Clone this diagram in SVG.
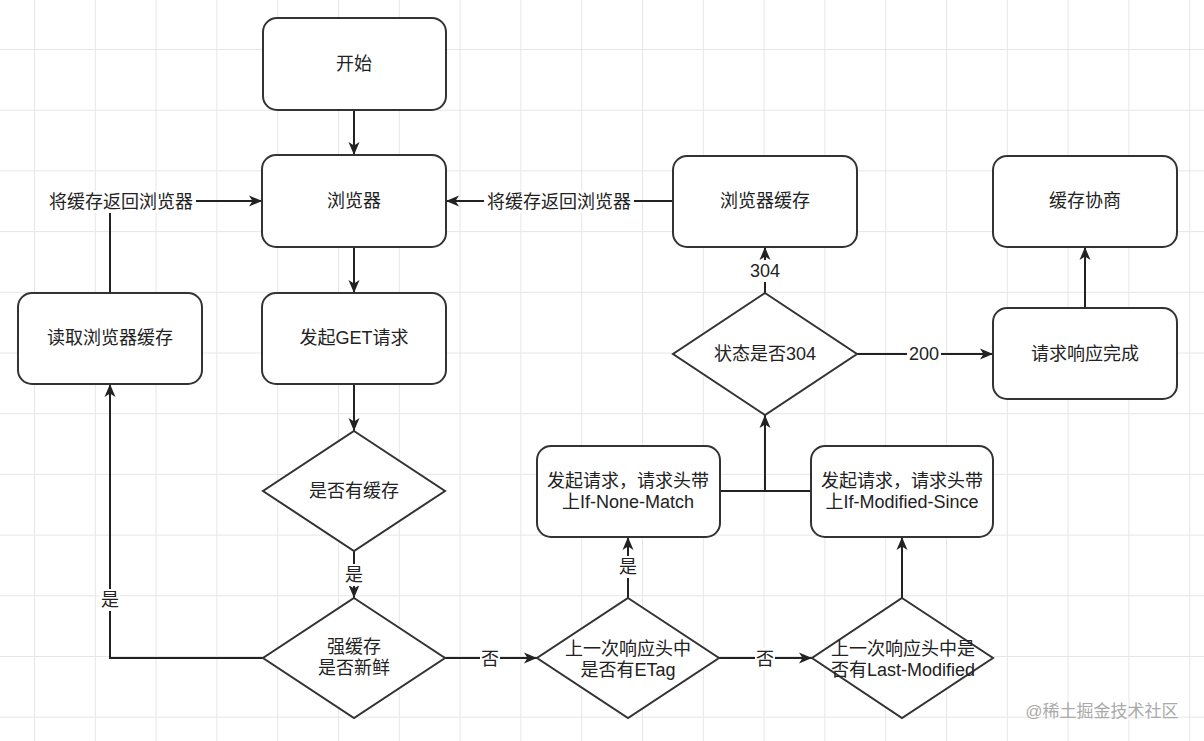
<svg xmlns="http://www.w3.org/2000/svg" width="1204" height="741" viewBox="0 0 1204 741">
  <defs>
    <pattern id="grid" x="34" y="49" width="60.8" height="60.7" patternUnits="userSpaceOnUse">
      <path d="M0,0 V60.7 M0,0 H60.8" fill="none" stroke="#e6e6e6" stroke-width="2"/>
    </pattern>
    <marker id="arr" markerUnits="userSpaceOnUse" markerWidth="14" markerHeight="14" viewBox="0 0 14 14" refX="13" refY="7" orient="auto">
      <path d="M0,1.5 L13,7 L0,12.5 L3.5,7 Z" fill="#222"/>
    </marker>
    <style>
      .node { fill: #fff; stroke: #333; stroke-width: 2; }
      .txt { font-family: "Liberation Sans", "Noto Sans CJK SC", sans-serif; font-size: 18px; fill: #222; text-anchor: middle; dominant-baseline: central; }
      .edge { fill: none; stroke: #222; stroke-width: 2; }
      .lblbg { fill: #fff; }
      .wm { font-family: "Liberation Sans", "Noto Sans CJK SC", sans-serif; font-size: 17px; fill: #aaa; text-anchor: middle; dominant-baseline: central; }
    </style>
  </defs>

  <rect x="0" y="0" width="1204" height="741" fill="#fff"/>
  <rect x="0" y="0" width="1204" height="741" fill="url(#grid)"/>

  <g id="connectors">
    <path class="edge" d="M354,110 V155" marker-end="url(#arr)"/>
    <path class="edge" d="M354,247 V293" marker-end="url(#arr)"/>
    <path class="edge" d="M354,384 V431" marker-end="url(#arr)"/>
    <path class="edge" d="M354,551 V598" marker-end="url(#arr)"/>
    <path class="edge" d="M263,658 H110 V384" marker-end="url(#arr)"/>
    <path class="edge" d="M110,293 V201 H262" marker-end="url(#arr)"/>
    <path class="edge" d="M673,201 H446" marker-end="url(#arr)"/>
    <path class="edge" d="M445,658 H537" marker-end="url(#arr)"/>
    <path class="edge" d="M719,658 H812" marker-end="url(#arr)"/>
    <path class="edge" d="M628,598 V537" marker-end="url(#arr)"/>
    <path class="edge" d="M902,598 V537" marker-end="url(#arr)"/>
    <path class="edge" d="M720,491 H765 V415" marker-end="url(#arr)"/>
    <path class="edge" d="M811,491 H765"/>
    <path class="edge" d="M765,293 V247" marker-end="url(#arr)"/>
    <path class="edge" d="M857,354 H993" marker-end="url(#arr)"/>
    <path class="edge" d="M1085,308 V247" marker-end="url(#arr)"/>

    <g id="edge-labels">
      <rect class="lblbg" x="46" y="191" width="150" height="22"/>
      <text class="txt" x="121" y="202">将缓存返回浏览器</text>
      <rect class="lblbg" x="484" y="191" width="150" height="22"/>
      <text class="txt" x="559" y="202">将缓存返回浏览器</text>
      <rect class="lblbg" x="100" y="589" width="20" height="22"/>
      <text class="txt" x="110" y="600">是</text>
      <rect class="lblbg" x="344" y="564" width="20" height="22"/>
      <text class="txt" x="354" y="575">是</text>
      <rect class="lblbg" x="480" y="648" width="20" height="22"/>
      <text class="txt" x="490" y="659">否</text>
      <rect class="lblbg" x="755" y="648" width="20" height="22"/>
      <text class="txt" x="765" y="659">否</text>
      <rect class="lblbg" x="618" y="556" width="20" height="22"/>
      <text class="txt" x="628" y="567">是</text>
      <rect class="lblbg" x="748" y="260" width="34" height="22"/>
      <text class="txt" x="765" y="271">304</text>
      <rect class="lblbg" x="907" y="343" width="34" height="22"/>
      <text class="txt" x="924" y="354">200</text>
    </g>
  </g>

  <g id="start">
    <rect class="node" x="263" y="18" width="183" height="92" rx="14"/>
    <text class="txt" x="354" y="64">开始</text>
  </g>
  <g id="browser">
    <rect class="node" x="262" y="155" width="184" height="92" rx="14"/>
    <text class="txt" x="354" y="201">浏览器</text>
  </g>
  <g id="get-request">
    <rect class="node" x="262" y="293" width="184" height="91" rx="14"/>
    <text class="txt" x="354" y="338">发起GET请求</text>
  </g>
  <g id="read-cache">
    <rect class="node" x="18" y="293" width="184" height="91" rx="14"/>
    <text class="txt" x="110" y="338">读取浏览器缓存</text>
  </g>
  <g id="has-cache">
    <polygon class="node" points="354,431 445,491 354,551 263,491"/>
    <text class="txt" x="354" y="491">是否有缓存</text>
  </g>
  <g id="fresh">
    <polygon class="node" points="354,598 445,658 354,718 263,658"/>
    <text class="txt" x="354" y="647">强缓存</text>
    <text class="txt" x="354" y="668">是否新鲜</text>
  </g>
  <g id="etag">
    <polygon class="node" points="628,598 719,658 628,718 537,658"/>
    <text class="txt" x="628" y="649">上一次响应头中</text>
    <text class="txt" x="628" y="670">是否有ETag</text>
  </g>
  <g id="last-modified">
    <polygon class="node" points="902,598 993,658 902,718 812,658"/>
    <text class="txt" x="903" y="649">上一次响应头中是</text>
    <text class="txt" x="903" y="670">否有Last-Modified</text>
  </g>
  <g id="if-none-match">
    <rect class="node" x="537" y="446" width="183" height="91" rx="14"/>
    <text class="txt" x="628" y="481">发起请求，请求头带</text>
    <text class="txt" x="628" y="502">上If-None-Match</text>
  </g>
  <g id="if-modified-since">
    <rect class="node" x="811" y="446" width="182" height="91" rx="14"/>
    <text class="txt" x="902" y="481">发起请求，请求头带</text>
    <text class="txt" x="902" y="502">上If-Modified-Since</text>
  </g>
  <g id="status-304">
    <polygon class="node" points="765,293 857,354 765,415 673,354"/>
    <text class="txt" x="765" y="354">状态是否304</text>
  </g>
  <g id="browser-cache">
    <rect class="node" x="673" y="156" width="184" height="91" rx="14"/>
    <text class="txt" x="765" y="201">浏览器缓存</text>
  </g>
  <g id="negotiate">
    <rect class="node" x="993" y="156" width="184" height="91" rx="14"/>
    <text class="txt" x="1085" y="201">缓存协商</text>
  </g>
  <g id="complete">
    <rect class="node" x="993" y="308" width="184" height="91" rx="14"/>
    <text class="txt" x="1085" y="354">请求响应完成</text>
  </g>

  <text class="wm" x="1102" y="711">@稀土掘金技术社区</text>
</svg>
